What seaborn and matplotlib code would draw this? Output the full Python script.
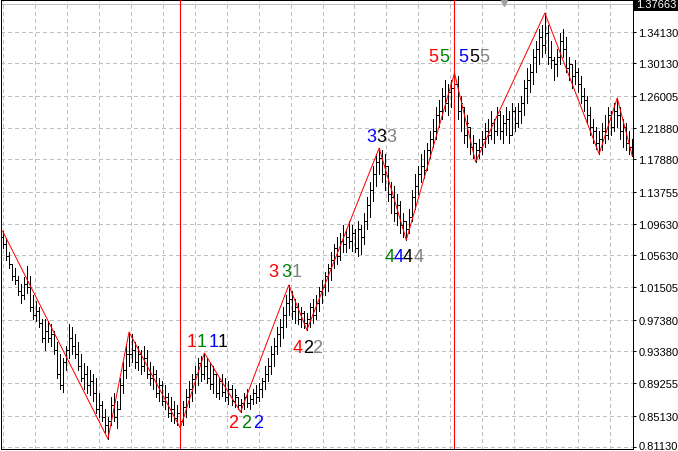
import numpy as np
import pandas as pd
import seaborn as sns
import matplotlib.pyplot as plt
from matplotlib import transforms

# barras (maximos, minimos, cierres)
highs = [
    1.0872, 1.078, 1.060, 1.045, 1.040, 1.030, 1.020, 1.028, 1.043, 1.030, 1.005, 0.998,
    0.990, 0.975, 0.975, 0.972, 0.968, 0.960, 0.945, 0.930, 0.925, 0.940, 0.968, 0.965,
    0.955, 0.945, 0.930, 0.918, 0.915, 0.910, 0.905, 0.900, 0.880, 0.870, 0.860, 0.850,
    0.875, 0.880, 0.870, 0.900, 0.920, 0.940, 0.9582,
    0.955, 0.945, 0.940, 0.935, 0.940, 0.935, 0.920, 0.915, 0.910, 0.900, 0.895, 0.890,
    0.880, 0.875, 0.870, 0.865, 0.860,
    0.870, 0.885, 0.895, 0.905, 0.915, 0.925, 0.928, 0.9313,
    0.925, 0.918, 0.915, 0.905, 0.900, 0.905, 0.900, 0.895, 0.890, 0.885, 0.875, 0.872,
    0.880, 0.885, 0.878, 0.885, 0.890, 0.893, 0.900, 0.915, 0.925, 0.940, 0.950, 0.965,
    0.975, 0.990, 1.005, 1.0182,
    1.010, 1.000, 0.995, 0.990, 0.985, 0.982,
    0.995, 1.000, 1.005, 1.015, 1.025, 1.035, 1.045, 1.060, 1.070, 1.080, 1.085, 1.095,
    1.090, 1.100, 1.095, 1.090, 1.100, 1.095, 1.110, 1.130, 1.150, 1.170, 1.185, 1.1931,
    1.190, 1.185, 1.170, 1.150, 1.145, 1.135, 1.125, 1.110, 1.100,
    1.115, 1.140, 1.160, 1.170, 1.185, 1.190, 1.200, 1.215, 1.230, 1.245, 1.255, 1.270,
    1.280, 1.275, 1.280, 1.2889,
    1.285, 1.260, 1.245, 1.235, 1.220, 1.210, 1.200,
    1.205, 1.215, 1.225, 1.230, 1.240, 1.230, 1.245, 1.240, 1.235, 1.245, 1.240, 1.250,
    1.245, 1.250, 1.260, 1.280, 1.295, 1.300, 1.320, 1.330, 1.345, 1.350, 1.3655,
    1.350, 1.330, 1.310, 1.320, 1.340, 1.345, 1.335, 1.310, 1.300, 1.305, 1.295, 1.285,
    1.270, 1.260, 1.245, 1.230, 1.220, 1.215,
    1.225, 1.235, 1.245, 1.240, 1.250, 1.257,
    1.245, 1.230, 1.225, 1.215, 1.205,
]
lows = [
    1.065, 1.050, 1.040, 1.025, 1.020, 1.005, 0.995, 1.000, 1.008, 0.985, 0.975, 0.972,
    0.965, 0.945, 0.935, 0.945, 0.940, 0.930, 0.900, 0.885, 0.882, 0.910, 0.925, 0.930,
    0.925, 0.910, 0.895, 0.885, 0.880, 0.878, 0.870, 0.855, 0.850, 0.845, 0.830, 0.8215,
    0.840, 0.845, 0.836, 0.860, 0.880, 0.900, 0.915,
    0.920, 0.912, 0.910, 0.905, 0.908, 0.900, 0.890, 0.885, 0.875, 0.870, 0.865, 0.860,
    0.850, 0.845, 0.842, 0.840, 0.8356,
    0.840, 0.850, 0.862, 0.870, 0.880, 0.890, 0.895, 0.898,
    0.893, 0.885, 0.880, 0.875, 0.872, 0.876, 0.870, 0.866, 0.865, 0.862, 0.860, 0.856,
    0.860, 0.863, 0.860, 0.866, 0.868, 0.870, 0.875, 0.885, 0.895, 0.905, 0.915, 0.930,
    0.940, 0.950, 0.965, 0.980,
    0.975, 0.970, 0.968, 0.965, 0.963, 0.9607,
    0.965, 0.970, 0.975, 0.985, 0.995, 1.005, 1.010, 1.025, 1.040, 1.045, 1.050, 1.060,
    1.060, 1.065, 1.062, 1.060, 1.055, 1.058, 1.070, 1.090, 1.105, 1.125, 1.145, 1.160,
    1.150, 1.140, 1.125, 1.110, 1.100, 1.095, 1.085, 1.080, 1.0756,
    1.085, 1.100, 1.115, 1.135, 1.150, 1.155, 1.165, 1.180, 1.195, 1.205, 1.220, 1.230,
    1.240, 1.235, 1.245, 1.250,
    1.230, 1.215, 1.200, 1.195, 1.185, 1.180, 1.1752,
    1.180, 1.185, 1.195, 1.200, 1.205, 1.200, 1.210, 1.205, 1.200, 1.210, 1.200, 1.210,
    1.215, 1.220, 1.225, 1.235, 1.250, 1.265, 1.275, 1.290, 1.300, 1.310, 1.315,
    1.300, 1.295, 1.280, 1.285, 1.300, 1.310, 1.290, 1.280, 1.270, 1.275, 1.265, 1.250,
    1.240, 1.225, 1.210, 1.200, 1.192, 1.1855,
    1.190, 1.200, 1.205, 1.210, 1.215, 1.220,
    1.205, 1.195, 1.190, 1.185, 1.1829,
]
closes = [
    1.070, 1.055, 1.045, 1.030, 1.025, 1.010, 1.005, 1.020, 1.015, 0.990, 0.980, 0.985,
    0.970, 0.950, 0.960, 0.950, 0.955, 0.935, 0.905, 0.890, 0.920, 0.935, 0.950, 0.940,
    0.930, 0.915, 0.900, 0.905, 0.890, 0.895, 0.880, 0.860, 0.865, 0.850, 0.840, 0.845,
    0.865, 0.850, 0.860, 0.890, 0.910, 0.930, 0.930,
    0.935, 0.920, 0.930, 0.915, 0.925, 0.905, 0.900, 0.905, 0.880, 0.890, 0.870, 0.875,
    0.855, 0.860, 0.848, 0.855, 0.845,
    0.862, 0.875, 0.885, 0.898, 0.905, 0.918, 0.905, 0.915,
    0.900, 0.892, 0.905, 0.880, 0.895, 0.882, 0.875, 0.885, 0.870, 0.878, 0.865, 0.868,
    0.875, 0.868, 0.872, 0.880, 0.875, 0.885, 0.895, 0.905, 0.915, 0.930, 0.940, 0.955,
    0.965, 0.980, 0.995, 1.000,
    0.985, 0.990, 0.975, 0.982, 0.970, 0.975,
    0.990, 0.980, 0.995, 1.010, 1.015, 1.030, 1.040, 1.050, 1.065, 1.055, 1.075, 1.070,
    1.080, 1.075, 1.085, 1.065, 1.090, 1.080, 1.100, 1.120, 1.140, 1.160, 1.175, 1.180,
    1.160, 1.170, 1.135, 1.130, 1.110, 1.120, 1.095, 1.100, 1.090,
    1.105, 1.130, 1.145, 1.160, 1.170, 1.165, 1.190, 1.205, 1.215, 1.235, 1.240, 1.260,
    1.250, 1.265, 1.270, 1.275,
    1.240, 1.250, 1.210, 1.225, 1.195, 1.200, 1.190,
    1.195, 1.205, 1.215, 1.210, 1.225, 1.215, 1.235, 1.215, 1.225, 1.230, 1.210, 1.240,
    1.225, 1.240, 1.250, 1.270, 1.280, 1.290, 1.310, 1.320, 1.335, 1.325, 1.340,
    1.310, 1.305, 1.300, 1.310, 1.330, 1.320, 1.295, 1.300, 1.285, 1.290, 1.275, 1.260,
    1.255, 1.235, 1.220, 1.215, 1.200, 1.205,
    1.215, 1.210, 1.235, 1.220, 1.240, 1.235,
    1.215, 1.220, 1.200, 1.195, 1.190,
]
first_open = 1.080

# zigzag
zz_bars = [0, 35, 42, 59, 67, 79, 95, 101, 125, 134, 150, 157, 180, 198, 204, 209]
zz_prices = [1.0872, 0.8215, 0.9582, 0.8356, 0.9313, 0.8560, 1.0182, 0.9607,
             1.1931, 1.0756, 1.2889, 1.1752, 1.3655, 1.1855, 1.2570, 1.1829]

# lineas verticales rojas
vline_bars = [59, 150]

# etiquetas de numeros (texto, colores, vertice del zigzag)
label_texts = ["1111", "222", "331", "422", "333", "4444", "55555"]
label_colors = [
    ["red", "green", "blue", "black"],
    ["red", "green", "blue"],
    ["red", "green", "gray"],
    ["red", "black", "gray"],
    ["blue", "black", "gray"],
    ["green", "blue", "black", "gray"],
    ["red", "green", "blue", "black", "gray"],
]
label_bars = [67, 79, 95, 101, 125, 134, 150]

price_ticks = [1.34130, 1.30130, 1.26005, 1.21880, 1.17880, 1.13755, 1.09630,
               1.05630, 1.01505, 0.97380, 0.93380, 0.89255, 0.85130, 0.81130]
bid_price = 1.37663

assert len(highs) == len(lows) == len(closes) == 210

df = pd.DataFrame({"high": highs, "low": lows, "close": closes})
df["bar"] = np.arange(len(df))
df["open"] = np.clip([first_open] + closes[:-1], df["low"], df["high"])

# ---- layout (pixeles) ----
W, H = 678, 452
px_bar = 3.0133
ax_left, ax_right, ax_top, ax_bot = 1, 633, 1, 450
px_price = 0.0012771
LW = 0.72  # 1 px

sns.set_style("white")
plt.rcParams["font.family"] = ["Liberation Sans", "DejaVu Sans"]

fig = plt.figure(figsize=(W / 100, H / 100), dpi=100)
ax = fig.add_axes([ax_left / W, (H - ax_bot) / H, (ax_right - ax_left) / W, (ax_bot - ax_top) / H])

x0 = -0.498
ax.set_xlim(x0, x0 + (ax_right - ax_left) / px_bar)
ymin = 0.81130 - (ax_bot - 448) * px_price
ymax = 0.81130 + (448 - ax_top) * px_price
ax.set_ylim(ymin, ymax)

# rejilla
grid_kw = dict(color="#C0C0C0", lw=LW, ls=(0, (4, 3)), zorder=0, antialiased=False)
for p in price_ticks:
    ax.axhline(p, **grid_kw)
for k in range(20):
    gx = 3 + 31.95 * k
    ax.axvline(x0 + (gx - ax_left) / px_bar, **grid_kw)

# linea bid
ax.axhline(bid_price, color="#C0C0C0", lw=LW, zorder=1, antialiased=False)

# barras OHLC
tick = 1.5 / px_bar
bar_kw = dict(colors="black", lw=LW, zorder=2, antialiased=False)
ax.vlines(df["bar"], df["low"], df["high"], **bar_kw)
ax.hlines(df["open"], df["bar"] - tick, df["bar"], **bar_kw)
ax.hlines(df["close"], df["bar"], df["bar"] + tick, **bar_kw)

# lineas verticales
for vb in vline_bars:
    ax.axvline(vb, color="#FF0000", lw=0.8, zorder=3, antialiased=True, snap=True)

# zigzag
sns.lineplot(x=zz_bars, y=zz_prices, ax=ax, color="red", lw=LW, sort=False,
             estimator=None, zorder=4, legend=False)

# etiquetas
label_dx = [[-13, -3, 9, 18], [-7, 6, 18], [-15, -2, 8], [-9, 1, 10],
            [-8, 2, 12], [-17, -8, 1, 12], [-21, -10, 9, 20, 30]]
label_dy = [12, -11, 13, -17, 12, -16, 17]
for txt, cols, b, dxs, dy in zip(label_texts, label_colors, label_bars, label_dx, label_dy):
    yv = zz_prices[zz_bars.index(b)]
    for ch, c, dx in zip(txt, cols, dxs):
        ax.annotate(ch, xy=(b, yv), xytext=(dx, dy), textcoords="offset pixels",
                    ha="center", va="center", color=c, fontsize=13, zorder=5)

# marcador de desplazamiento
trans = transforms.blended_transform_factory(ax.transData, ax.transAxes)
ax.plot([x0 + (504 - ax_left) / px_bar], [1 - 3 / (ax_bot - ax_top)], marker="v",
        color="#A0A0A0", ms=5, transform=trans, clip_on=False, zorder=6)

# eje de precios a la derecha
ax.yaxis.tick_right()
ax.set_yticks(price_ticks)
ax.set_yticklabels([f"{p:.5f}" for p in price_ticks])
ax.tick_params(axis="y", direction="out", length=2.2, width=LW, pad=1.5,
               labelsize=8, colors="black")
for lab in ax.get_yticklabels():
    lab.set_family(["Liberation Sans Narrow", "Liberation Sans"])
# la ultima etiqueta queda pegada al borde inferior
last = ax.get_yticklabels()[-1]
last.set_transform(last.get_transform() + transforms.ScaledTranslation(0, 2 / 100, fig.dpi_scale_trans))
ax.set_xticks([])
for s in ax.spines.values():
    s.set_color("black")
    s.set_linewidth(LW)

ax.text(1 + 3 / (ax_right - ax_left), bid_price, f"{bid_price:.5f}",
        transform=transforms.blended_transform_factory(ax.transAxes, ax.transData),
        ha="left", va="center", color="white", fontsize=8,
        family=["Liberation Sans Narrow", "Liberation Sans"],
        bbox=dict(facecolor="black", edgecolor="none", pad=1.2), clip_on=False, zorder=7)

fig.savefig("out.png", dpi=100)
